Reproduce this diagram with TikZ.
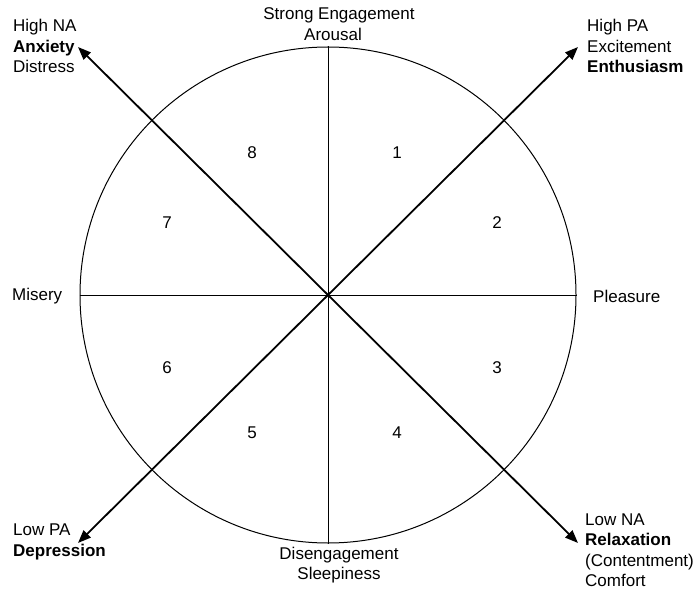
\documentclass[tikz,border=0pt]{standalone}
\usepackage{fontspec}
\setmainfont{Liberation Sans}
\usetikzlibrary{arrows.meta}
\begin{document}
\begin{tikzpicture}[x=1pt,y=-1pt,
  lbl/.style={inner sep=0pt,font=\fontsize{17}{20.5}\selectfont,align=left},
  num/.style={inner sep=0pt,font=\fontsize{17}{20.5}\selectfont},
  thin/.style={line width=1pt},
  diag/.style={line width=1.8pt,-{Triangle[length=13pt,width=10pt]}}]
\useasboundingbox (0,0) rectangle (694,591);
\coordinate (c) at (328,295);
\coordinate (nw) at (78,47);
\coordinate (ne) at (578,47);
\coordinate (sw) at (78,543);
\coordinate (se) at (578,543);
\node[circle,draw,thin,minimum size=496pt,inner sep=0pt] (circ) at (c) {};
\draw[thin] (circ.north) -- (circ.south);
\draw[thin] (circ.west) -- (circ.east);
\draw[diag] (c) -- (nw);
\draw[diag] (c) -- (ne);
\draw[diag] (c) -- (sw);
\draw[diag] (c) -- (se);
% numbers
\node[num] (n1) at (397,153) {1};
\node[num] (n2) at (497,223) {2};
\node[num] (n3) at (497,368) {3};
\node[num] (n4) at (397,433) {4};
\node[num] (n5) at (252,433) {5};
\node[num] (n6) at (167,368) {6};
\node[num] (n7) at (167,223) {7};
\node[num] (n8) at (252,153) {8};
% labels
\node[lbl,align=center] (top1) at (339,15) {Strong Engagement};
\node[lbl,align=center] (top2) at (333,34) {Arousal};
\node[lbl,align=center] (bot) at (339,565) {Disengagement\\Sleepiness};
\node[lbl,anchor=west] (mis) at (12,296) {Misery};
\node[lbl,anchor=west] (ple) at (593,296) {Pleasure};
\node[lbl,anchor=west] (hna) at (13,46) {High NA\\\textbf{Anxiety}\\Distress};
\node[lbl,anchor=west] (hpa) at (587,46) {High PA\\Excitement\\\textbf{Enthusiasm}};
\node[lbl,anchor=west] (lpa) at (13,542) {Low PA\\\textbf{Depression}};
\node[lbl,anchor=west] (lna) at (585,550) {Low NA\\\textbf{Relaxation}\\(Contentment)\\Comfort};
\end{tikzpicture}
\end{document}
